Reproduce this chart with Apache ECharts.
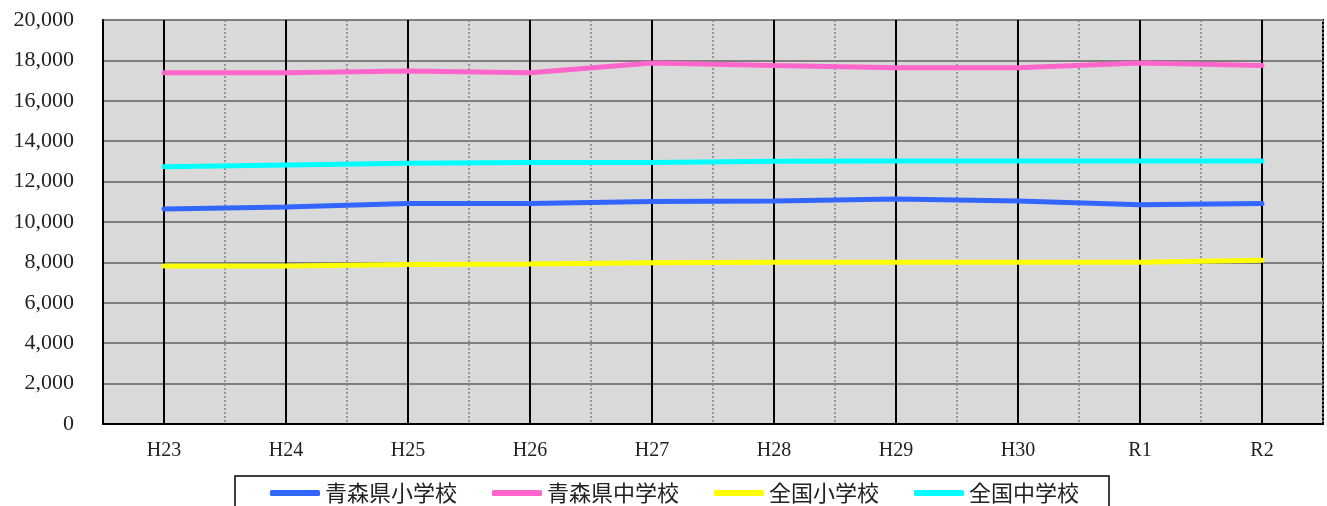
<!DOCTYPE html>
<html><head><meta charset="utf-8">
<script src="https://cdn.jsdelivr.net/npm/echarts@6/dist/echarts.min.js"></script>
<style>html,body{margin:0;padding:0;background:#fff}#c{width:1327px;height:506px}</style>
</head><body><div id="c"></div>
<script>
const categories = ['H23','H24','H25','H26','H27','H28','H29','H30','R1','R2'];
const aomoriElem = [10640,10740,10920,10920,11010,11040,11140,11040,10860,10920];
const aomoriJunior = [17390,17390,17470,17390,17870,17750,17640,17640,17870,17750];
const nationalElem = [7820,7820,7900,7920,7980,8010,8010,8010,8010,8110];
const nationalJunior = [12740,12825,12910,12940,12940,13010,13020,13020,13020,13020];
const seriesNames = ['青森県小学校','青森県中学校','全国小学校','全国中学校'];
const seriesColors = ['#3366ff','#ff66cc','#ffff00','#00ffff'];
const yTicks = {min:0, max:20000, interval:2000};

const serif = '"Liberation Serif", "DejaVu Serif", serif';
const chart = echarts.init(document.getElementById('c'));
const dataSets = [aomoriElem, aomoriJunior, nationalElem, nationalJunior];
chart.setOption({
  animation: false,
  grid: {left:103, right:4, top:20, bottom:82, show:true, backgroundColor:'#d9d9d9', borderColor:'#000', borderWidth:2},
  xAxis: [
    {type:'category', data:categories, boundaryGap:true,
     axisLine:{show:true, lineStyle:{color:'#000', width:2}},
     axisTick:{show:false},
     axisLabel:{fontFamily:serif, fontSize:20, color:'#222', margin:17},
     splitLine:{show:true, lineStyle:{color:'#808080', width:1.5, type:[2,2]}}},
    {type:'category', data:categories, boundaryGap:true, position:'bottom',
     axisLine:{show:false}, axisTick:{show:false}, axisLabel:{show:false},
     splitLine:{show:true, alignWithLabel:true, lineStyle:{color:'#000', width:2}}}
  ],
  yAxis: {type:'value', min:yTicks.min, max:yTicks.max, interval:yTicks.interval,
    axisLine:{show:true, lineStyle:{color:'#000', width:2}},
    axisTick:{show:false},
    axisLabel:{fontFamily:serif, fontSize:22, color:'#222', margin:29,
      formatter: v => v.toLocaleString('en-US')},
    splitLine:{show:true, lineStyle:{color:'#7f7f7f', width:2}}},
  legend: {left:235, top:476, padding:[6,30,7,35], itemGap:35, itemWidth:50, itemHeight:6,
    icon:'roundRect', borderColor:'#000', borderWidth:1.5, backgroundColor:'#fff',
    textStyle:{fontFamily:'"Noto Sans CJK JP", sans-serif', fontSize:22, color:'#222'},
    data: seriesNames},
  series: dataSets.map((d,i) => ({
    name: seriesNames[i], type:'line', data:d, xAxisIndex:0,
    symbol:'none', color: seriesColors[i],
    lineStyle:{width:5, color:seriesColors[i], cap:'round'}
  }))
});
</script></body></html>
